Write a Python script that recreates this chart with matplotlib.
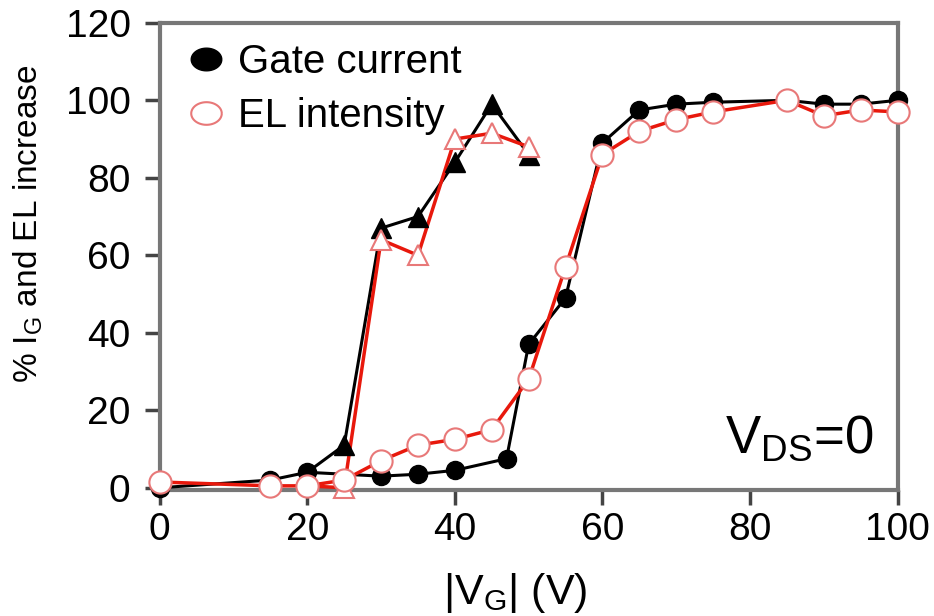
import numpy as np
import matplotlib.pyplot as plt
from matplotlib.lines import Line2D

plt.rcParams['font.family'] = ['Liberation Sans', 'DejaVu Sans']
plt.rcParams['mathtext.fontset'] = 'custom'
plt.rcParams['mathtext.rm'] = 'Liberation Sans'

# gate current (filled circles), sweep 1
vg_gate = [0, 15, 20, 30, 35, 40, 47, 50, 55, 60, 65, 70, 75, 85, 90, 95, 100]
ig_gate = [0, 2, 4, 3, 3.5, 4.5, 7.5, 37, 49, 89, 97.5, 99, 99.5, 100, 99, 99, 100]

# EL intensity (open circles), sweep 1
vg_el = [0, 15, 20, 25, 30, 35, 40, 45, 50, 55, 60, 65, 70, 75, 85, 90, 95, 100]
el = [1.5, 0.5, 0.5, 2, 7, 11, 12.5, 15, 28, 57, 86, 92, 95, 97, 100, 96, 97.5, 97]

# sweep 2 (triangles), line starts at 20 V
vg_tri = [20, 25, 30, 35, 40, 45, 50]
ig_tri = [4, 11, 67, 70, 84, 99, 86]
el_tri = [0.5, 0, 64, 60, 90, 91.5, 88]

rojo = "#e8180c"
rosa = "#e87878"

fig = plt.figure(figsize=(9.34, 6.16), dpi=100)
ax = fig.add_axes([0.171, 0.205, 0.790, 0.758])

# triangles
ax.plot(vg_tri, ig_tri, color="black", lw=2.2, zorder=3)
ax.plot(vg_tri[1:], ig_tri[1:], ls="none", marker="^", ms=14, color="black", zorder=4, clip_on=False)
ax.plot(vg_tri, el_tri, color=rojo, lw=2.5, zorder=3)
ax.plot(vg_tri[1:], el_tri[1:], ls="none", marker="^", ms=15, mfc="white", mec=rosa,
        mew=1.5, zorder=5, clip_on=False)

# circles
ax.plot(vg_gate, ig_gate, color="black", lw=2.2, marker="o", ms=13, zorder=3, clip_on=False)
ax.plot(vg_el, el, color=rojo, lw=2.5, zorder=4)
ax.plot(vg_el, el, ls="none", marker="o", ms=16, mfc="white", mec=rosa, mew=1.5,
        zorder=5, clip_on=False)

ax.set_xlim(0, 100)
ax.set_ylim(-0.5, 120)
ax.set_xticks([0, 20, 40, 60, 80, 100])
ax.set_yticks([0, 20, 40, 60, 80, 100, 120])
ax.tick_params(direction="out", length=11, width=2.5, color="#444444", labelsize=28)
ax.tick_params(axis="x", pad=5)
ax.tick_params(axis="y", pad=10)
for s in ax.spines.values():
    s.set_color("#777777")
    s.set_linewidth(3)

ax.set_xlabel(r"|V$_{\mathregular{G}}$| (V)", fontsize=31)
ax.xaxis.set_label_coords(0.482, -0.175)
ax.set_ylabel(r"% I$_{\mathregular{G}}$ and EL increase", fontsize=24)
ax.yaxis.set_label_coords(-0.155, 0.57)

ax.text(0.766, 0.079, r"V$_{\mathregular{DS}}$=0", transform=ax.transAxes, fontsize=38,
        va="baseline")

# legend markers are a bit wider than tall
t = np.linspace(0, 2 * np.pi, 60)
elipse = np.column_stack([1.35 * np.cos(t), np.sin(t)])
handles = [
    Line2D([], [], ls="none", marker=elipse, ms=22, color="black"),
    Line2D([], [], ls="none", marker=elipse, ms=22, mfc="white", mec=rosa, mew=1.5),
]
ax.legend(handles, ["Gate current", "EL intensity"], loc="upper left", frameon=False,
          fontsize=29, handletextpad=0.15, borderaxespad=0.35, labelspacing=0.4,
          handlelength=1.3, borderpad=0.15)

fig.savefig("out.png", dpi=100)
